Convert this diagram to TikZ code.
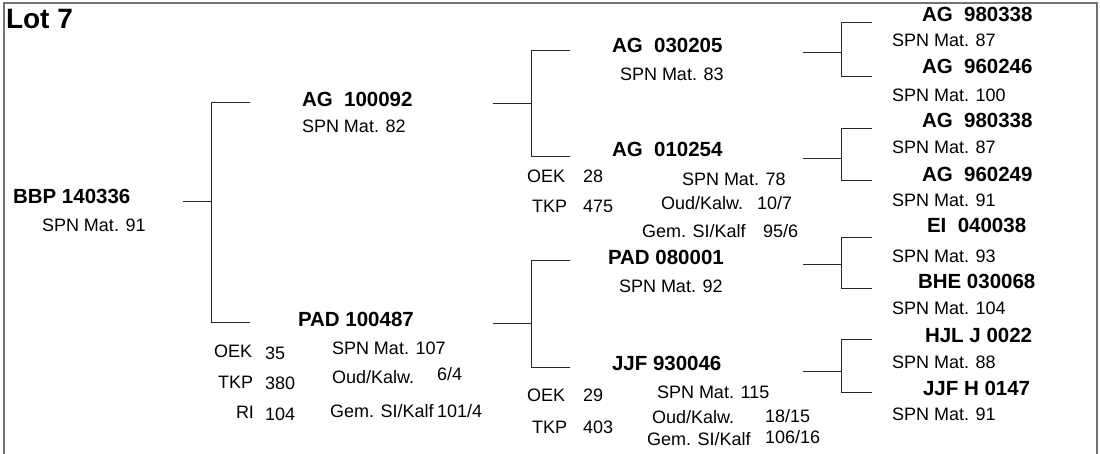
\documentclass[tikz,border=0pt]{standalone}
\usepackage{fontspec}
\setmainfont{Liberation Sans}
\begin{document}
\begin{tikzpicture}[x=1pt,y=1pt,
  every node/.style={inner sep=0pt,outer sep=0pt,anchor=base west},
  idlab/.style={font=\fontsize{20.5}{22}\selectfont\bfseries},
  info/.style={font=\fontsize{18}{20}\selectfont},
  title/.style={font=\fontsize{28}{30}\selectfont\bfseries},
  conn/.style={draw=black!85,line width=0.9pt},
  frame/.style={draw=black!55,line width=1.2pt}]
\useasboundingbox (0,0) rectangle (1100,-454);
\draw[frame] (3.5,-454) -- (3.5,-3) -- (1097,-3) -- (1097,-454);
\draw[draw=black!55,line width=1pt] (4.5,-454) -- (4.5,-3);

\node[title] (lot) at (6,-29) {Lot 7};

% level 1
\node[idlab] (bbp) at (13,-204) {BBP 140336};
\node[info] (bbps) at (42,-232) {SPN Mat. 91};

% level 2
\node[idlab] (ag100092) at (302,-107) {AG~~100092};
\node[info] (ag100092s) at (302,-133) {SPN Mat. 82};
\node[idlab] (pad100487) at (298,-326) {PAD 100487};
\node[info] (pad100487s) at (332,-354) {SPN Mat. 107};
\node[info] (pad100487o) at (332,-383) {Oud/Kalw.};
\node[info] (pad100487ov) at (437,-380) {6/4};
\node[info] (pad100487g) at (330,-417) {Gem. SI/Kalf};
\node[info] (pad100487gv) at (437,-417) {101/4};
\node[info] (pad100487oek) at (214,-357) {OEK};
\node[info] (pad100487oekv) at (265,-359) {35};
\node[info] (pad100487tkp) at (218,-388) {TKP};
\node[info] (pad100487tkpv) at (265,-389) {380};
\node[info] (pad100487ri) at (236,-418) {RI};
\node[info] (pad100487riv) at (265,-420) {104};

% level 3
\node[idlab] (ag030205) at (612,-53) {AG~~030205};
\node[info] (ag030205s) at (620,-81) {SPN Mat. 83};
\node[idlab] (ag010254) at (612,-157) {AG~~010254};
\node[info] (ag010254s) at (682,-186) {SPN Mat. 78};
\node[info] (ag010254o) at (661,-210) {Oud/Kalw.};
\node[info] (ag010254ov) at (757,-210) {10/7};
\node[info] (ag010254g) at (642,-238) {Gem. SI/Kalf};
\node[info] (ag010254gv) at (763,-238) {95/6};
\node[info] (ag010254oek) at (527,-183) {OEK};
\node[info] (ag010254oekv) at (583,-183) {28};
\node[info] (ag010254tkp) at (532,-213) {TKP};
\node[info] (ag010254tkpv) at (583,-213) {475};
\node[idlab] (pad080001) at (608,-265) {PAD 080001};
\node[info] (pad080001s) at (619,-293) {SPN Mat. 92};
\node[idlab] (jjf930046) at (612,-370) {JJF 930046};
\node[info] (jjf930046s) at (657,-398) {SPN Mat. 115};
\node[info] (jjf930046o) at (652,-423) {Oud/Kalw.};
\node[info] (jjf930046ov) at (765,-422) {18/15};
\node[info] (jjf930046g) at (647,-445) {Gem. SI/Kalf};
\node[info] (jjf930046gv) at (765,-443) {106/16};
\node[info] (jjf930046oek) at (527,-401) {OEK};
\node[info] (jjf930046oekv) at (583,-401) {29};
\node[info] (jjf930046tkp) at (532,-433) {TKP};
\node[info] (jjf930046tkpv) at (583,-433) {403};

% level 4
\node[idlab] (ag980338a) at (922,-22) {AG~~980338};
\node[info] (ag980338as) at (892,-47) {SPN Mat. 87};
\node[idlab] (ag960246) at (922,-74) {AG~~960246};
\node[info] (ag960246s) at (892,-102) {SPN Mat. 100};
\node[idlab] (ag980338b) at (922,-128) {AG~~980338};
\node[info] (ag980338bs) at (892,-154) {SPN Mat. 87};
\node[idlab] (ag960249) at (922,-182) {AG~~960249};
\node[info] (ag960249s) at (892,-207) {SPN Mat. 91};
\node[idlab] (ei040038) at (927,-233) {EI~~040038};
\node[info] (ei040038s) at (892,-263) {SPN Mat. 93};
\node[idlab] (bhe030068) at (918,-289) {BHE 030068};
\node[info] (bhe030068s) at (892,-315) {SPN Mat. 104};
\node[idlab] (hjlj0022) at (925,-342) {HJL J 0022};
\node[info] (hjlj0022s) at (892,-368) {SPN Mat. 88};
\node[idlab] (jjfh0147) at (923,-395) {JJF H 0147};
\node[info] (jjfh0147s) at (892,-420) {SPN Mat. 91};

% connector end points
\coordinate (bS) at (183,-201);
\coordinate (bA) at (250,-102);
\coordinate (bB) at (250,-322);
\coordinate (aS) at (493,-103);
\coordinate (aA) at (570,-50);
\coordinate (aB) at (570,-156);
\coordinate (pS) at (493,-323);
\coordinate (pA) at (570,-260);
\coordinate (pB) at (570,-367);
\coordinate (c1S) at (803,-52);
\coordinate (c1A) at (872,-22);
\coordinate (c1B) at (872,-76);
\coordinate (c2S) at (803,-158);
\coordinate (c2A) at (872,-128);
\coordinate (c2B) at (872,-180);
\coordinate (c3S) at (803,-264);
\coordinate (c3A) at (872,-237);
\coordinate (c3B) at (872,-288);
\coordinate (c4S) at (803,-371);
\coordinate (c4A) at (872,-339);
\coordinate (c4B) at (872,-392);

\draw[conn] (bS) -- ++(28,0);
\draw[conn] (bA) -- ++(-39,0) |- (bB);
\draw[conn] (aS) -- ++(38,0);
\draw[conn] (aA) -- ++(-39,0) |- (aB);
\draw[conn] (pS) -- ++(38,0);
\draw[conn] (pA) -- ++(-39,0) |- (pB);
\draw[conn] (c1S) -- ++(38,0);
\draw[conn] (c1A) -- ++(-31,0) |- (c1B);
\draw[conn] (c2S) -- ++(38,0);
\draw[conn] (c2A) -- ++(-31,0) |- (c2B);
\draw[conn] (c3S) -- ++(38,0);
\draw[conn] (c3A) -- ++(-31,0) |- (c3B);
\draw[conn] (c4S) -- ++(38,0);
\draw[conn] (c4A) -- ++(-31,0) |- (c4B);
\end{tikzpicture}
\end{document}
